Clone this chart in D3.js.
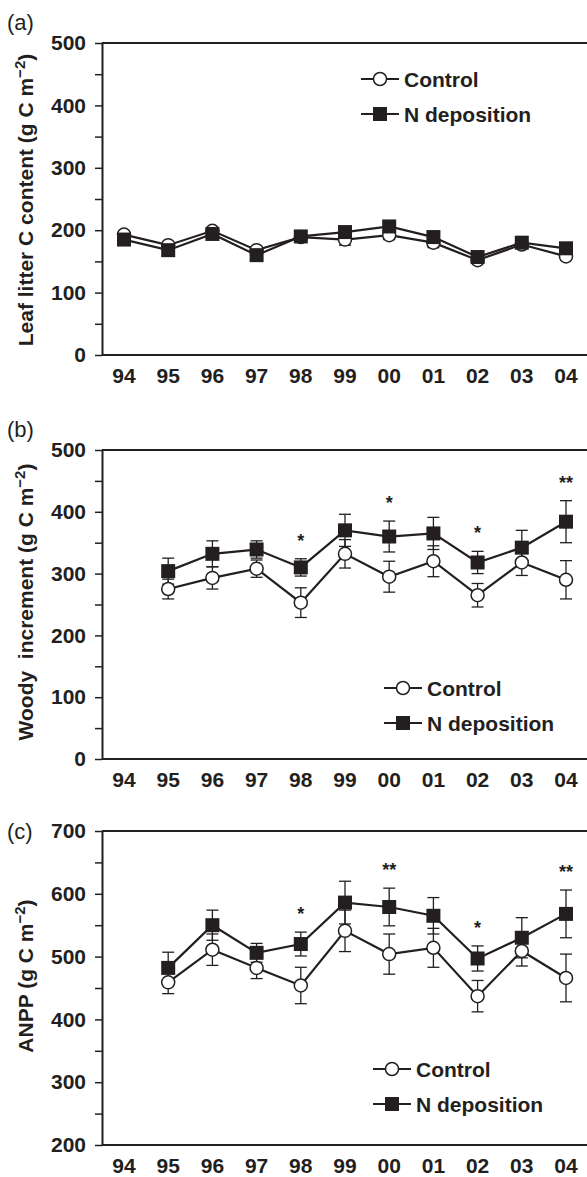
<!DOCTYPE html>
<html>
<head>
<meta charset="utf-8">
<script src="https://cdn.jsdelivr.net/npm/d3@7"></script>
<style>
  body { margin: 0; background: #fff; }
  svg { display: block; }
  text { font-family: "Liberation Sans", Arial, Helvetica, sans-serif; }
</style>
</head>
<body>
<div id="chart"></div>
<script>
// years on the x axis
const years = ["94", "95", "96", "97", "98", "99", "00", "01", "02", "03", "04"];
const seriesNames = ["Control", "N deposition"];

// (a) leaf litter C content
const litterControl    = [193, 176, 199, 168, 189, 185, 192, 180, 152, 177, 158];
const litterControlErr = [5, 5, 5, 5, 5, 9, 7, 8, 5, 5, 6];
const litterN          = [185, 168, 194, 160, 190, 197, 206, 189, 157, 180, 171];
const litterNErr       = [6, 5, 5, 5, 5, 7, 6, 5, 5, 5, 5];
const litterSig        = ["", "", "", "", "", "", "", "", "", "", ""];

// (b) woody increment
const woodyControl    = [null, 275, 293, 308, 253, 332, 295, 320, 265, 318, 290];
const woodyControlErr = [null, 16, 18, 14, 24, 23, 25, 25, 19, 21, 31];
const woodyN          = [null, 304, 332, 339, 310, 370, 360, 365, 318, 342, 384];
const woodyNErr       = [null, 21, 21, 14, 14, 26, 25, 26, 18, 28, 34];
const woodySig        = ["", "", "", "", "*", "", "*", "", "*", "", "**"];

// (c) ANPP
const anppControl    = [null, 459, 511, 482, 454, 541, 504, 514, 437, 509, 466];
const anppControlErr = [null, 18, 25, 17, 29, 33, 32, 31, 25, 24, 38];
const anppN          = [null, 482, 550, 506, 520, 586, 579, 565, 497, 530, 568];
const anppNErr       = [null, 25, 24, 15, 19, 34, 30, 29, 20, 32, 38];
const anppSig        = ["", "", "", "", "*", "", "**", "", "*", "", "**"];

const width = 587, height = 1177, ink = "#231f20";
const axisX = 102;
const fs = 21;

const svg = d3.select("#chart").append("svg")
  .attr("width", width)
  .attr("height", height);

const x = d3.scalePoint().domain(years).range([124, 566]);

const panels = [
  { label: "(a)", labelY: 30, top: 43, bottom: 355, domain: [0, 500],
    title: ["Leaf litter C content (g C m", ")"], titleY: 200,
    control: litterControl, controlErr: litterControlErr, n: litterN, nErr: litterNErr, sig: litterSig,
    legendX: 361, legendY: 79 },
  { label: "(b)", labelY: 437, top: 450, bottom: 759, domain: [0, 500],
    title: ["Woody  increment (g C m", ")"], titleY: 602,
    control: woodyControl, controlErr: woodyControlErr, n: woodyN, nErr: woodyNErr, sig: woodySig,
    legendX: 384, legendY: 688 },
  { label: "(c)", labelY: 839, top: 831, bottom: 1145, domain: [200, 700],
    title: ["ANPP (g C m", ")"], titleY: 976,
    control: anppControl, controlErr: anppControlErr, n: anppN, nErr: anppNErr, sig: anppSig,
    legendX: 373, legendY: 1069 }
];

function drawMarker(g, kind, cx, cy) {
  if (kind === 0) {
    g.append("circle")
      .attr("cx", cx).attr("cy", cy).attr("r", 6.5)
      .attr("fill", "#fff").attr("stroke", ink).attr("stroke-width", 1.5);
  } else {
    g.append("rect")
      .attr("x", cx - 7).attr("y", cy - 7)
      .attr("width", 14).attr("height", 14)
      .attr("fill", ink);
  }
}

panels.forEach(p => {
  const y = d3.scaleLinear().domain(p.domain).range([p.bottom, p.top]);
  const g = svg.append("g");

  // panel letter
  g.append("text")
    .attr("x", 7).attr("y", p.labelY)
    .attr("font-size", 22).attr("fill", ink)
    .text(p.label);

  // y axis
  const ax = g.append("g")
    .attr("transform", `translate(${axisX},0)`)
    .call(d3.axisLeft(y)
      .tickValues(d3.range(p.domain[0], p.domain[1] + 1, 50))
      .tickSize(7)
      .tickSizeOuter(0)
      .tickPadding(9)
      .tickFormat(d => d % 100 === 0 ? d : ""));
  ax.select(".domain").attr("stroke", ink).attr("stroke-width", 2);
  ax.selectAll(".tick line").attr("stroke", ink).attr("stroke-width", 1.5);
  ax.selectAll(".tick text")
    .attr("fill", ink)
    .attr("font-size", fs)
    .attr("font-weight", "bold")
    .attr("font-family", "'Liberation Sans', Arial, sans-serif");

  // bottom axis and top border
  [p.bottom, p.top].forEach(yy => {
    g.append("line")
      .attr("x1", axisX).attr("x2", width + 5)
      .attr("y1", yy).attr("y2", yy)
      .attr("stroke", ink).attr("stroke-width", 2);
  });

  g.selectAll(".xlab")
    .data(years)
    .join("text")
    .attr("x", d => x(d))
    .attr("y", p.bottom + 28)
    .attr("text-anchor", "middle")
    .attr("font-size", fs)
    .attr("font-weight", "bold")
    .attr("fill", ink)
    .text(d => d);

  // y title
  const t = g.append("text")
    .attr("transform", `translate(33,${p.titleY}) rotate(-90)`)
    .attr("text-anchor", "middle")
    .attr("font-size", fs)
    .attr("font-weight", "bold")
    .attr("fill", ink)
    .style("white-space", "pre");
  t.append("tspan").text(p.title[0]);
  t.append("tspan").attr("baseline-shift", "super").attr("font-size", 15).text("\u22122");
  t.append("tspan").text(p.title[1]);

  const series = [
    { v: p.control, e: p.controlErr },
    { v: p.n, e: p.nErr }
  ].map(s => years.map((yr, i) => ({ yr, v: s.v[i], e: s.e[i] })).filter(d => d.v != null));

  // error bars
  series.forEach(pts => {
    pts.forEach(d => {
      const y1 = y(d.v - d.e), y2 = y(d.v + d.e), cx = x(d.yr);
      g.append("line").attr("x1", cx).attr("x2", cx).attr("y1", y1).attr("y2", y2)
        .attr("stroke", ink).attr("stroke-width", 1.3);
      [y1, y2].forEach(yy => g.append("line")
        .attr("x1", cx - 6).attr("x2", cx + 6).attr("y1", yy).attr("y2", yy)
        .attr("stroke", ink).attr("stroke-width", 1.3));
    });
  });

  // lines
  const line = d3.line().x(d => x(d.yr)).y(d => y(d.v));
  series.forEach(pts => {
    g.append("path").attr("d", line(pts))
      .attr("fill", "none").attr("stroke", ink).attr("stroke-width", 2.2);
  });

  // markers
  series.forEach((pts, k) => {
    pts.forEach(d => drawMarker(g, k, x(d.yr), y(d.v)));
  });

  // significance
  years.forEach((yr, i) => {
    if (!p.sig[i]) return;
    g.append("text")
      .attr("x", x(yr))
      .attr("y", y(p.n[i] + p.nErr[i]) - 12)
      .attr("text-anchor", "middle")
      .attr("font-size", 18)
      .attr("font-weight", "bold")
      .attr("fill", ink)
      .text(p.sig[i]);
  });

  // legend
  seriesNames.forEach((name, k) => {
    const ly = p.legendY + k * 35;
    g.append("line")
      .attr("x1", p.legendX).attr("x2", p.legendX + 38)
      .attr("y1", ly).attr("y2", ly)
      .attr("stroke", ink).attr("stroke-width", 2.2);
    drawMarker(g, k, p.legendX + 19, ly);
    g.append("text")
      .attr("x", p.legendX + 43)
      .attr("y", ly + 7.5)
      .attr("font-size", fs)
      .attr("font-weight", "bold")
      .attr("fill", ink)
      .text(name);
  });
});
</script>
</body>
</html>
